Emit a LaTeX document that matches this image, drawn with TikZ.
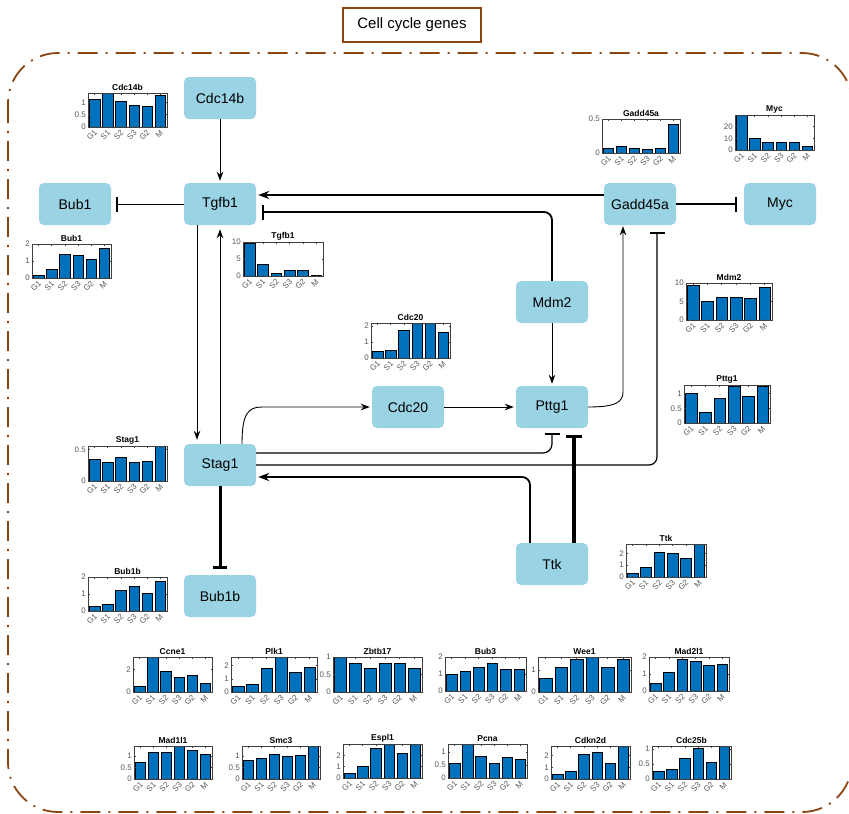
\documentclass[tikz,border=0pt]{standalone}
\usepackage{fontspec}
\setmainfont{Liberation Sans}
\usetikzlibrary{arrows.meta}
\definecolor{nodeblue}{RGB}{154,211,228}
\definecolor{brownc}{RGB}{139,69,19}
\definecolor{barblue}{RGB}{0,114,189}
\tikzset{
  gene/.style={rectangle, rounded corners=5pt, fill=nodeblue, minimum width=72pt, minimum height=42pt, inner sep=0pt, font=\fontsize{14}{16}\selectfont},
  thinar/.style={line width=0.9pt, -{Stealth[length=9pt,width=6.5pt]}},
  thickar/.style={line width=1.8pt, -{Stealth[length=11pt,width=8pt]}},
  inh/.style={-{Bar[width=15pt,line width=2pt]}},
  barst/.style={fill=barblue, draw=black, line width=0.6pt},
  axst/.style={draw=black!75, line width=0.7pt},
  cxl/.style={anchor=east, rotate=45, inner sep=0.3pt, text=black!65, font=\fontsize{8}{8}\selectfont},
  cyl/.style={anchor=east, inner sep=0.5pt, text=black!65, font=\fontsize{8}{8}\selectfont},
  ctitle/.style={anchor=south, inner sep=1pt, font=\fontsize{8.5}{9}\selectfont\bfseries},
}
% #1 left, #2 top, #3 width, #4 height, #5 title, #6 ymax, #7 ticks, #8 values
\newcommand{\barchart}[8]{%
\begin{scope}[shift={(#1,#2)}]
  \foreach \val [count=\ii] in {#8}{%
    \pgfmathsetmacro\xa{(\ii-0.9)*#3/6}%
    \pgfmathsetmacro\xb{(\ii-0.1)*#3/6}%
    \pgfmathsetmacro\yt{#4-\val/#6*#4}%
    \filldraw[barst] (\xa,#4) rectangle (\xb,\yt);
  }
  \draw[axst] (0,0) rectangle (#3,#4);
  \foreach \lab [count=\ii] in {G1,S1,S2,S3,G2,M}{%
    \pgfmathsetmacro\xc{(\ii-0.5)*#3/6}%
    \draw[axst] (\xc,#4) -- ++(0,-1.5) (\xc,0) -- ++(0,1.5);
    \node[cxl] (#5-x\ii) at (\xc+1.5,#4+4) {\lab};
  }
  \foreach \tk [count=\jj] in {#7}{%
    \pgfmathsetmacro\yy{#4-\tk/#6*#4}%
    \draw[axst] (0,\yy) -- ++(1.5,0) (#3,\yy) -- ++(-1.5,0);
    \node[cyl] (#5-y\jj) at (-1.5,\yy) {\tk};
  }
  \node[ctitle] (#5-t) at (#3/2,-1) {#5};
\end{scope}}

\begin{document}
\begin{tikzpicture}[x=1pt,y=-1pt]
\useasboundingbox (0,0) rectangle (849,814);

% frame and title
\draw[brownc, line width=1.8pt, rounded corners=50pt, dash pattern=on 20pt off 8pt on 2pt off 8pt] (8,53) rectangle (852,812);
\node[draw=brownc, line width=1.2pt, minimum width=138pt, minimum height=34pt, inner sep=0pt, font=\fontsize{15}{17}\selectfont] (title) at (412,25) {Cell cycle genes};

% gene nodes
\node[gene] (cdc14b) at (220,98) {Cdc14b};
\node[gene] (tgfb1) at (220,204) {Tgfb1};
\node[gene] (bub1) at (75,204) {Bub1};
\node[gene] (gadd) at (640,204) {Gadd45a};
\node[gene] (myc) at (780,204) {Myc};
\node[gene] (mdm2) at (552,302) {Mdm2};
\node[gene] (cdc20) at (408,407) {Cdc20};
\node[gene] (pttg1) at (552,407) {Pttg1};
\node[gene] (stag1) at (220,465) {Stag1};
\node[gene] (bub1b) at (220,596) {Bub1b};
\node[gene] (ttk) at (552,564) {Ttk};

\coordinate (k1) at (262,407);
\coordinate (k2) at (623,392);

% connectors
\draw[thinar, shorten >=2pt] (cdc14b.south) -- (tgfb1.north);
\draw[line width=0.9pt, inh, shorten >=5pt] (tgfb1.west) -- (bub1.east);
\draw[thickar, shorten >=2pt] ([yshift=9pt]gadd.west) -- ([yshift=9pt]tgfb1.east);
\draw[line width=1.8pt, rounded corners=8pt, inh, shorten >=6pt] (mdm2.north) |- ([yshift=-8pt]tgfb1.east);
\draw[line width=2.2pt, inh, shorten >=7pt] (gadd.east) -- (myc.west);
\draw[thinar, shorten >=4pt] ([xshift=-23pt]tgfb1.south) -- ([xshift=-23pt]stag1.north);
\draw[thinar, shorten >=4pt] (stag1.north) -- (tgfb1.south);
\draw[thinar, shorten >=2pt] ([xshift=22pt]stag1.north) .. controls ([xshift=22pt,yshift=30pt]stag1.north) and ([xshift=-14pt]k1) .. (k1) -- (cdc20.west);
\draw[thinar, shorten >=2pt] (cdc20.east) -- (pttg1.west);
\draw[thinar, shorten >=2pt] (mdm2.south) -- (pttg1.north);
\draw[thinar, shorten >=1pt] (pttg1.east) .. controls (616,407) and (623,402) .. (k2) -- (k2 |- gadd.south);
\draw[line width=1.2pt, rounded corners=9pt, inh, shorten >=5pt] ([yshift=12pt]stag1.east) -| (pttg1.south);
\draw[line width=1.2pt, rounded corners=8pt, inh, shorten >=7pt] (stag1.east) -| ([xshift=17pt]gadd.south);
\draw[thickar, rounded corners=8pt, shorten >=2pt] ([xshift=-22pt]ttk.north) |- ([yshift=-12pt]stag1.east);
\draw[line width=4pt, -{Bar[width=16pt,line width=3pt]}, shorten >=7pt] ([xshift=22pt]ttk.north) -- ([xshift=22pt]pttg1.south);
\draw[line width=3pt, -{Bar[width=14pt,line width=2.5pt]}, shorten >=6pt] (stag1.south) -- (bub1b.north);

% bar charts
\barchart{88}{93}{79}{34}{Cdc14b}{1.38}{0,0.5,1}{1.14,1.38,1.03,0.89,0.85,1.30}
\barchart{32}{244}{79}{34}{Bub1}{2}{0,1,2}{0.18,0.5,1.41,1.35,1.08,1.73}
\barchart{243}{242}{80}{34}{Tgfb1}{10}{0,5,10}{9.5,3.5,0.9,1.8,1.7,0.1}
\barchart{602}{119}{78}{34}{Gadd45a}{0.5}{0,0.5}{0.074,0.098,0.074,0.06,0.064,0.417}
\barchart{735}{115}{79}{35}{Myc}{30}{0,10,20}{30,9.7,6.2,6.8,6.5,3.2}
\barchart{686}{283}{86}{37}{Mdm2}{10}{0,5,10}{9.4,5.0,6.2,6.2,6.0,8.8}
\barchart{88}{446}{79}{35}{Stag1}{0.56}{0,0.5}{0.344,0.296,0.376,0.30,0.312,0.548}
\barchart{88}{577}{79}{34}{Bub1b}{2}{0,1,2}{0.25,0.40,1.21,1.48,1.02,1.77}
\barchart{371}{323}{79}{35}{Cdc20}{2.19}{0,1,2}{0.42,0.48,1.75,2.15,2.15,1.58}
\barchart{684}{385}{86}{38}{Pttg1}{1.3}{0,0.5,1}{1.0,0.37,0.84,1.25,0.93,1.25}
\barchart{626}{544}{80}{33}{Ttk}{2.8}{0,1,2}{0.3,0.85,2.1,2.0,1.55,2.8}
\barchart{133}{657}{79}{35}{Ccne1}{3.07}{0,2}{0.5,3.07,1.85,1.28,1.46,0.72}
\barchart{231}{657}{86}{35}{Plk1}{2.67}{0,1,2}{0.44,0.57,1.84,2.67,1.53,1.92}
\barchart{333}{657}{89}{35}{Zbtb17}{1.0}{0,0.5,1}{1.0,0.82,0.67,0.82,0.82,0.67}
\barchart{445}{657}{81}{34}{Bub3}{2}{0,1,2}{0.99,1.18,1.38,1.61,1.28,1.28}
\barchart{538}{657}{93}{35}{Wee1}{1.58}{0,1}{0.62,1.12,1.46,1.55,1.12,1.46}
\barchart{649}{657}{80}{34}{Mad2l1}{2}{0,1,2}{0.43,1.1,1.84,1.73,1.5,1.57}
\barchart{134}{746}{78}{33}{Mad1l1}{1.43}{0,0.5,1}{0.74,1.17,1.14,1.43,1.26,1.06}
\barchart{242}{746}{78}{33}{Smc3}{1.43}{0,0.5,1}{0.79,0.91,1.07,0.97,1.04,1.43}
\barchart{343}{744}{79}{34}{Espl1}{3}{0,1,2}{0.39,1.04,2.6,2.99,2.18,3.0}
\barchart{448}{744}{79}{34}{Pcna}{1.31}{0,0.5,1}{0.55,1.31,0.83,0.58,0.81,0.71}
\barchart{551}{746}{79}{33}{Cdkn2d}{2.82}{0,1,2}{0.39,0.65,2.11,2.28,1.35,2.82}
\barchart{652}{746}{79}{33}{Cdc25b}{1.1}{0,0.5,1}{0.27,0.34,0.68,1.01,0.57,1.1}
\end{tikzpicture}
\end{document}
